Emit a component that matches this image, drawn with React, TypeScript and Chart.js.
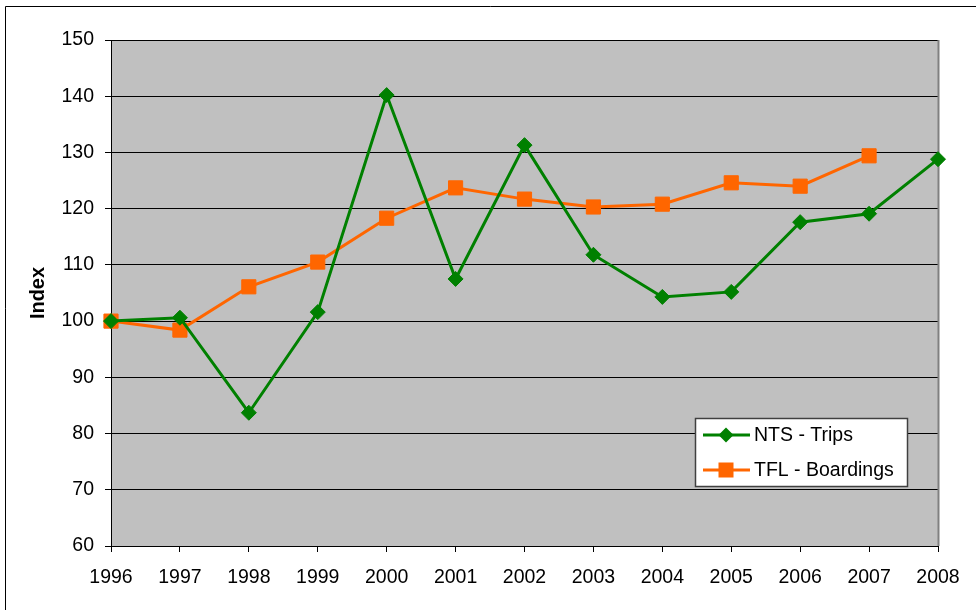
import React, { useEffect, useRef } from "react";
import { Chart, registerables } from "chart.js";

Chart.register(...registerables);

const years = ["1996", "1997", "1998", "1999", "2000", "2001", "2002", "2003", "2004", "2005", "2006", "2007", "2008"];
const ntsTrips = [100.0, 100.6, 83.7, 101.6, 140.2, 107.5, 131.3, 111.8, 104.3, 105.2, 117.6, 119.1, 128.8];
const tflBoardings = [100.0, 98.4, 106.1, 110.5, 118.3, 123.7, 121.7, 120.3, 120.8, 124.6, 124.0, 129.4, null];
const yTitle = "Index";
const seriesNames = ["NTS - Trips", "TFL - Boardings"];

const FONT = "'Liberation Sans', Arial, sans-serif";

const backgroundPlugin = {
  id: "bgPlugin",
  beforeDraw(chart: any) {
    const { ctx, chartArea } = chart;
    ctx.save();
    ctx.fillStyle = "#ffffff";
    ctx.fillRect(0, 0, chart.width, chart.height);
    ctx.strokeStyle = "#000";
    ctx.lineWidth = 1;
    ctx.beginPath();
    ctx.moveTo(5.5, chart.height);
    ctx.lineTo(5.5, 6.5);
    ctx.lineTo(chart.width, 6.5);
    ctx.stroke();
    ctx.fillStyle = "#C0C0C0";
    ctx.fillRect(chartArea.left, chartArea.top, chartArea.right - chartArea.left, chartArea.bottom - chartArea.top);
    ctx.restore();
  },
  beforeDatasetsDraw(chart: any) {
    const { ctx, chartArea } = chart;
    ctx.save();
    ctx.strokeStyle = "#808080";
    ctx.lineWidth = 2;
    ctx.beginPath();
    ctx.moveTo(chartArea.right + 0.5, chartArea.top);
    ctx.lineTo(chartArea.right + 0.5, chartArea.bottom);
    ctx.stroke();
    ctx.restore();
  },
};

const legendPlugin = {
  id: "boxLegend",
  afterDraw(chart: any) {
    const { ctx } = chart;
    const x0 = 695, y0 = 418, w = 212, h = 68;
    ctx.save();
    ctx.fillStyle = "#ffffff";
    ctx.fillRect(x0, y0, w, h);
    ctx.strokeStyle = "#404040";
    ctx.lineWidth = 1.5;
    ctx.strokeRect(x0 + 0.5, y0 + 0.5, w, h);
    const rows = [435, 470];
    chart.data.datasets.forEach((ds: any, i: number) => {
      const y = rows[i];
      ctx.strokeStyle = ds.borderColor;
      ctx.lineWidth = 3;
      ctx.beginPath();
      ctx.moveTo(703, y);
      ctx.lineTo(750, y);
      ctx.stroke();
      ctx.fillStyle = ds.pointBackgroundColor;
      const cx = 726;
      if (ds.pointStyle === "rectRot") {
        ctx.beginPath();
        ctx.moveTo(cx, y - 7.5);
        ctx.lineTo(cx + 7.5, y);
        ctx.lineTo(cx, y + 7.5);
        ctx.lineTo(cx - 7.5, y);
        ctx.closePath();
        ctx.fill();
      } else {
        ctx.fillRect(cx - 7.5, y - 7.5, 15, 15);
      }
      ctx.fillStyle = "#000";
      ctx.font = `19.5px ${FONT}`;
      ctx.textBaseline = "middle";
      ctx.textAlign = "left";
      ctx.fillText(ds.label, 754, y + 1);
    });
    ctx.restore();
  },
};

export default function App() {
  const ref = useRef<HTMLCanvasElement | null>(null);
  useEffect(() => {
    if (!ref.current) return;
    const chart = new Chart(ref.current, {
      type: "line",
      data: {
        labels: years,
        datasets: [
          {
            label: seriesNames[0],
            data: ntsTrips,
            borderColor: "#008000",
            backgroundColor: "#008000",
            pointBackgroundColor: "#008000",
            pointBorderColor: "#008000",
            pointStyle: "rectRot",
            pointRadius: 7.5,
            pointBorderWidth: 1,
            borderWidth: 3,
            tension: 0,
          },
          {
            label: seriesNames[1],
            data: tflBoardings,
            borderColor: "#FF6600",
            backgroundColor: "#FF6600",
            pointBackgroundColor: "#FF6600",
            pointBorderColor: "#FF6600",
            pointStyle: "rect",
            pointRadius: 10,
            pointBorderWidth: 1,
            borderWidth: 3,
            tension: 0,
          },
        ] as any,
      },
      options: {
        animation: false,
        responsive: false,
        maintainAspectRatio: false,
        layout: { padding: { left: 0, top: 40, right: 38, bottom: 0 } },
        plugins: {
          legend: { display: false },
          tooltip: { enabled: false },
        },
        scales: {
          x: {
            type: "category",
            offset: false,
            grid: { drawOnChartArea: false, drawTicks: true, tickLength: 6, color: "#000" },
            border: { display: false },
            ticks: { color: "#000", font: { family: FONT, size: 19.5 }, padding: 14, maxRotation: 0, autoSkip: false },
            afterFit: (s: any) => { s.height = 64; },
          },
          y: {
            min: 60,
            max: 150,
            ticks: { stepSize: 10, color: "#000", font: { family: FONT, size: 19.5 }, padding: 11 },
            grid: { color: "#000", lineWidth: 1, tickLength: 6 },
            border: { display: true, color: "#000", width: 1 },
            title: { display: true, text: yTitle, color: "#000", font: { family: FONT, size: 20, weight: "bold" }, padding: { top: 26, bottom: 0 } },
            afterFit: (s: any) => { s.width = 111; },
          },
        },
      },
      plugins: [backgroundPlugin, legendPlugin],
    });
    return () => chart.destroy();
  }, []);
  return (
    <div style={{ position: "fixed", left: 0, top: 0, width: 976, height: 610, background: "#fff" }}>
      <canvas ref={ref} width={976} height={610} style={{ width: 976, height: 610, display: "block" }} />
    </div>
  );
}
